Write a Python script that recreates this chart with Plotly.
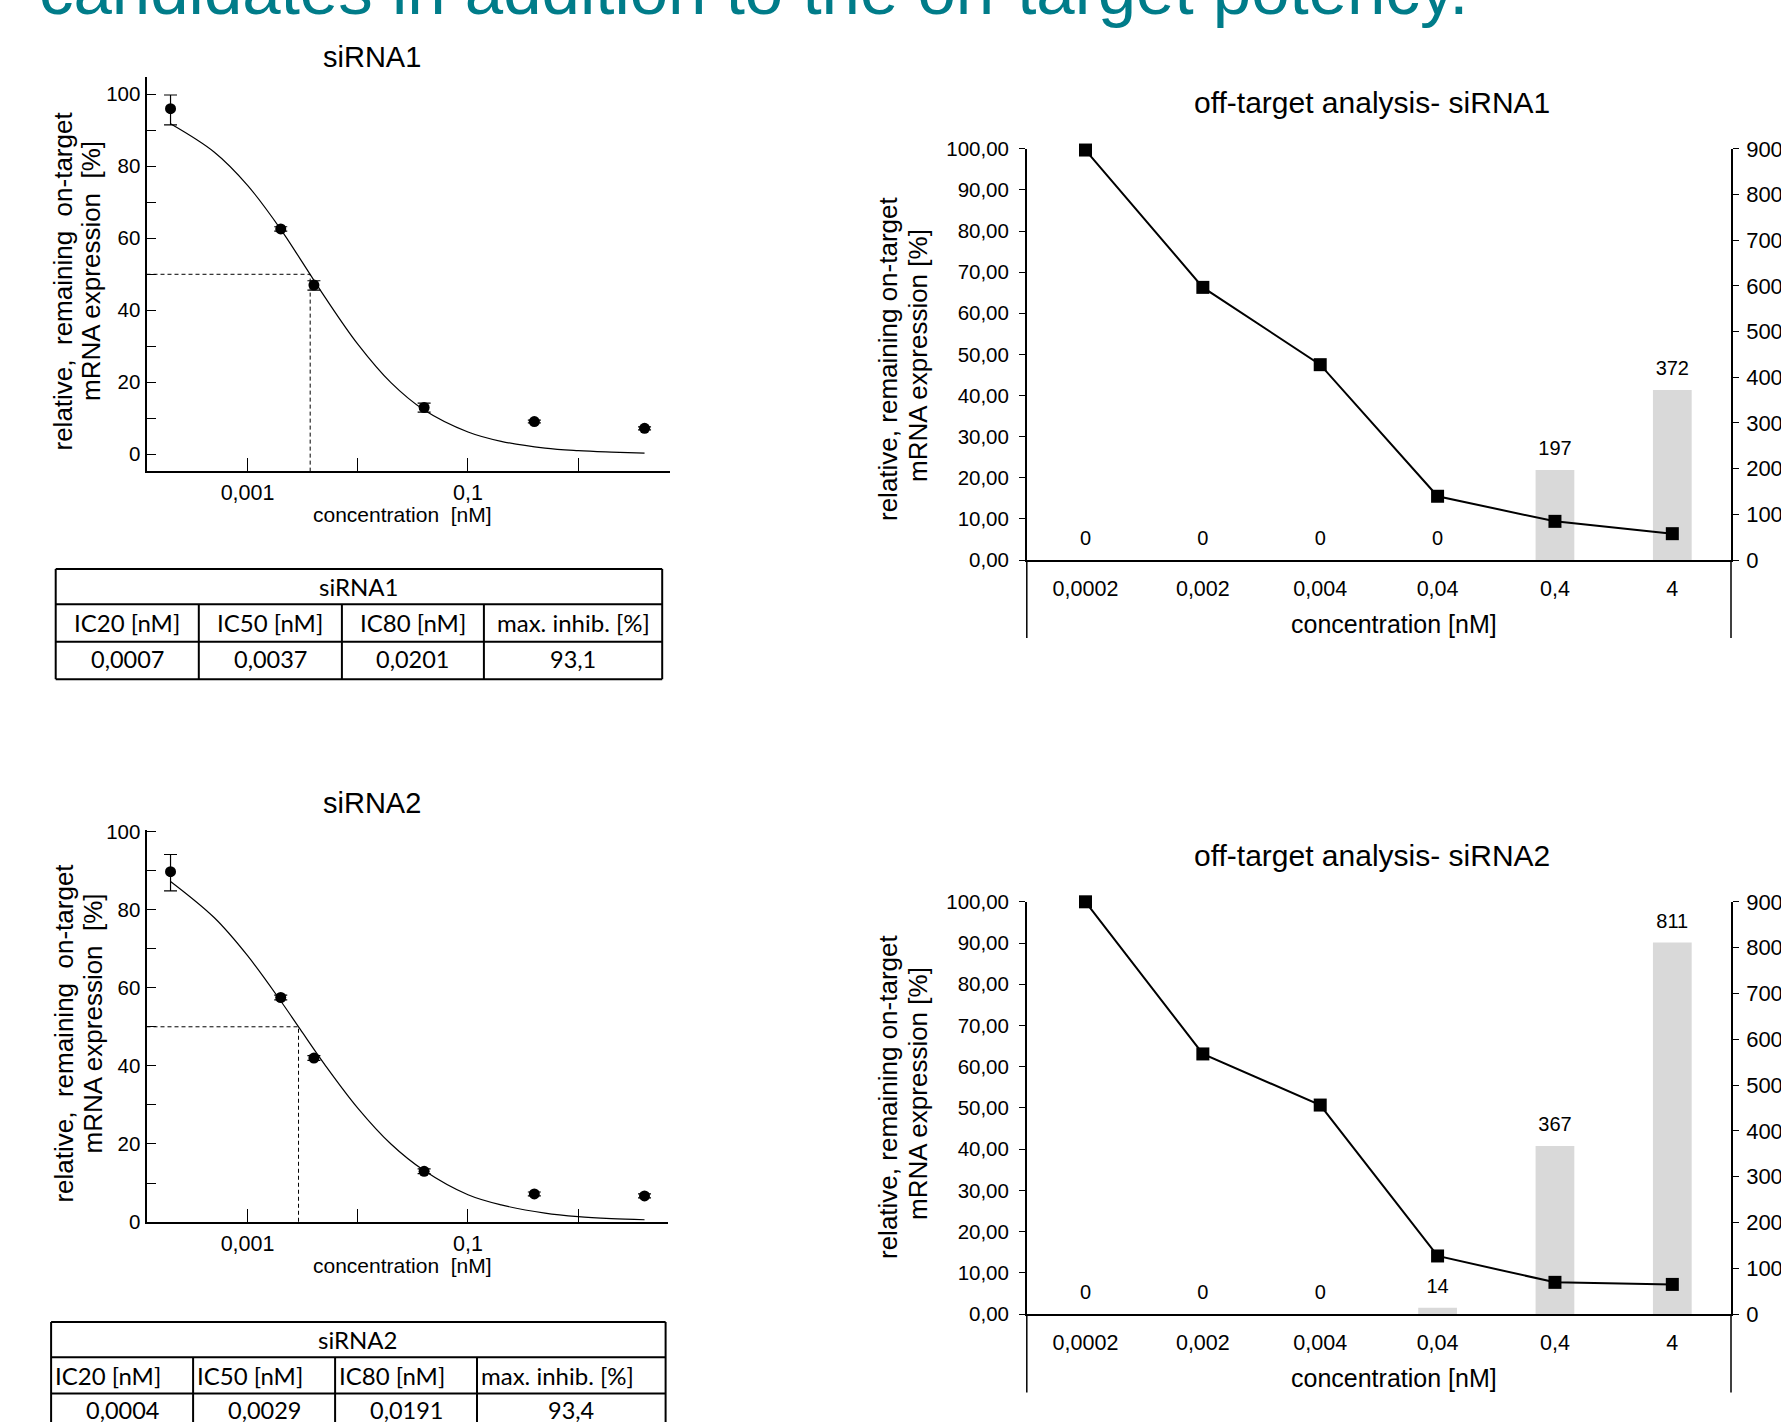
import plotly.graph_objects as go

W, H = 1781, 1422

# ---------------- data ----------------
conc = [0.0002, 0.002, 0.004, 0.04, 0.4, 4]
conc_labels = ["0,0002", "0,002", "0,004", "0,04", "0,4", "4"]

sirna1_on = [96.0, 62.6, 47.0, 13.0, 9.1, 7.2]
sirna1_err_plus = [3.8, 0.6, 1.2, 1.2, 0.4, 0.4]
sirna1_err_minus = [4.5, 0.6, 1.4, 1.3, 0.4, 0.4]
sirna2_on = [89.7, 57.5, 42.0, 13.0, 7.2, 6.7]
sirna2_err_plus = [4.4, 0.6, 0.6, 0.6, 0.5, 0.5]
sirna2_err_minus = [4.9, 0.6, 0.6, 0.6, 0.5, 0.5]

# fitted dose-response curves
curve_x = [0.0002, 0.0005, 0.001, 0.002, 0.003, 0.005, 0.01, 0.02, 0.04,
           0.1, 0.2, 0.5, 1, 2, 4]
sirna1_curve = [91.8, 83.9, 74.7, 62.5, 54.3, 43.8, 30.6, 19.9, 12.3,
                6.2, 3.6, 1.7, 1.0, 0.6, 0.3]
sirna2_curve = [87.2, 77.9, 68.2, 56.6, 49.4, 40.4, 29.2, 20.0, 13.2,
                7.0, 4.4, 2.3, 1.4, 0.9, 0.6]

off1_line = [99.7, 66.3, 47.5, 15.5, 9.4, 6.4]
off1_bars = [0, 0, 0, 0, 197, 372]
off2_line = [100.0, 63.1, 50.7, 14.1, 7.7, 7.2]
off2_bars = [0, 0, 0, 14, 367, 811]

table_cols = ["IC20 [nM]", "IC50 [nM]", "IC80 [nM]", "max. inhib. [%]"]
table1_vals = ["0,0007", "0,0037", "0,0201", "93,1"]
table2_vals = ["0,0004", "0,0029", "0,0191", "93,4"]

ic50_1 = float(table1_vals[1].replace(",", "."))
ic50_2 = float(table2_vals[1].replace(",", "."))

# ---------------- helpers ----------------
def fx(p):
    return p / W


def fy(p):
    return 1 - p / H


CF = "Liberation Sans, Arial, sans-serif"
TF = "Lato, Carlito, sans-serif"
BLACK = "black"

TL_XR = [-3.917, 0.833]
TL_YR = [-4.64, 104.8]
BL_XR = [-3.917, 0.815]
BL_YR = [0, 100.3]

fig = go.Figure()


def dose_panel(xa, ya, on, ep, em, curve, ic50, xr, yr):
    fig.add_trace(go.Scatter(x=curve_x, y=curve, mode="lines",
                             line=dict(color=BLACK, width=1.2, shape="spline"),
                             xaxis=xa, yaxis=ya, hoverinfo="skip"))
    fig.add_trace(go.Scatter(x=[10 ** xr[0], ic50, ic50], y=[50, 50, yr[0]],
                             mode="lines",
                             line=dict(color=BLACK, width=1, dash="4px,3px"),
                             xaxis=xa, yaxis=ya, hoverinfo="skip"))
    fig.add_trace(go.Scatter(x=conc, y=on, mode="markers",
                             marker=dict(color=BLACK, size=11),
                             error_y=dict(type="data", symmetric=False,
                                          array=ep, arrayminus=em,
                                          color=BLACK, thickness=1.2, width=6.5),
                             xaxis=xa, yaxis=ya))


dose_panel("x", "y", sirna1_on, sirna1_err_plus, sirna1_err_minus,
           sirna1_curve, ic50_1, TL_XR, TL_YR)
dose_panel("x2", "y2", sirna2_on, sirna2_err_plus, sirna2_err_minus,
           sirna2_curve, ic50_2, BL_XR, BL_YR)


def off_panel(xa, ybar, yline, bars, line):
    fig.add_trace(go.Bar(x=conc_labels, y=bars, width=0.33,
                         marker=dict(color="#D9D9D9", line=dict(width=0)),
                         xaxis=xa, yaxis=ybar))
    fig.add_trace(go.Scatter(x=conc_labels, y=bars, mode="markers+text",
                             text=[str(v) for v in bars],
                             textposition="top center",
                             textfont=dict(family=CF, size=20, color=BLACK),
                             marker=dict(size=14, opacity=0),
                             cliponaxis=False, xaxis=xa, yaxis=ybar,
                             hoverinfo="skip"))
    fig.add_trace(go.Scatter(x=conc_labels, y=line, mode="lines+markers",
                             line=dict(color=BLACK, width=2),
                             marker=dict(symbol="square", size=13, color=BLACK),
                             cliponaxis=False, xaxis=xa, yaxis=yline))


off_panel("x3", "y3", "y4", off1_bars, off1_line)
off_panel("x4", "y5", "y6", off2_bars, off2_line)

# ---------------- axes ----------------
def log_x(domain, anchor, xr):
    return dict(domain=domain, anchor=anchor, type="log", range=xr,
                automargin=False,
                showline=True, linecolor=BLACK, linewidth=2,
                ticks="inside", ticklen=13, tickwidth=1.3, tickcolor=BLACK,
                tickvals=[0.001, 0.01, 0.1, 1],
                ticktext=["0,001", "", "0,1", ""],
                tickfont=dict(family=CF, size=21.5, color=BLACK),
                ticklabelstandoff=1,
                showgrid=False, zeroline=False)


def lin_y(domain, anchor, yr):
    return dict(domain=domain, anchor=anchor, range=yr,
                automargin=False,
                showline=True, linecolor=BLACK, linewidth=2,
                ticks="inside", ticklen=9, tickwidth=1.3, tickcolor=BLACK,
                tick0=0, dtick=20,
                minor=dict(ticks="inside", ticklen=9, tickwidth=1.3,
                           tickcolor=BLACK, tick0=0, dtick=10),
                tickfont=dict(family=CF, size=20.5, color=BLACK),
                showgrid=False, zeroline=False)


def cat_x(domain, anchor):
    return dict(domain=domain, anchor=anchor, type="category",
                automargin=False,
                range=[-0.5, 5.5], showline=True, linecolor=BLACK,
                linewidth=1.5, ticks="", showgrid=False, zeroline=False,
                tickfont=dict(family=CF, size=21.5, color=BLACK),
                ticklabelstandoff=8)


def bar_y(domain, anchor):
    return dict(domain=domain, anchor=anchor, side="right", range=[0, 900],
                automargin=False,
                tick0=0, dtick=100, ticks="outside", ticklen=6,
                tickwidth=1.3, tickcolor=BLACK,
                showline=True, linecolor=BLACK, linewidth=1.5,
                showgrid=False, zeroline=False, ticklabelstandoff=3,
                tickfont=dict(family=CF, size=22, color=BLACK))


def line_y(overlay, anchor):
    return dict(overlaying=overlay, anchor=anchor, side="left",
                automargin=False,
                range=[0, 100], tick0=0, dtick=10, tickformat=".2f",
                ticks="outside", ticklen=6, tickwidth=1.3, tickcolor=BLACK,
                showline=True, linecolor=BLACK, linewidth=1.5,
                showgrid=False, zeroline=False, ticklabelstandoff=6,
                tickfont=dict(family=CF, size=20.5, color=BLACK))


# panel geometry (pixels)
TL = dict(x0=146.5, x1=670, y0=77, y1=471)
BL = dict(x0=146.5, x1=668, y0=830.3, y1=1222.1)
TR = dict(x0=1026.8, x1=1731, y0=148.8, y1=560, ext=638)
BR = dict(x0=1026.8, x1=1731, y0=901.8, y1=1314.1, ext=1392.5)

layout_axes = dict(
    xaxis=log_x([fx(TL["x0"]), fx(TL["x1"])], "y", TL_XR),
    yaxis=lin_y([fy(TL["y1"]), fy(TL["y0"])], "x", TL_YR),
    xaxis2=log_x([fx(BL["x0"]), fx(BL["x1"])], "y2", BL_XR),
    yaxis2=lin_y([fy(BL["y1"]), fy(BL["y0"])], "x2", BL_YR),
    xaxis3=cat_x([fx(TR["x0"]), fx(TR["x1"])], "y3"),
    yaxis3=bar_y([fy(TR["y1"]), fy(TR["y0"])], "x3"),
    yaxis4=line_y("y3", "x3"),
    xaxis4=cat_x([fx(BR["x0"]), fx(BR["x1"])], "y5"),
    yaxis5=bar_y([fy(BR["y1"]), fy(BR["y0"])], "x4"),
    yaxis6=line_y("y5", "x4"),
)

shapes = []
annotations = []


def text(t, x, y, size, family=CF, angle=0, xanchor="center", color=BLACK):
    annotations.append(dict(text=t, x=fx(x), y=fy(y), xref="paper",
                            yref="paper", showarrow=False, xanchor=xanchor,
                            yanchor="middle", textangle=angle,
                            font=dict(family=family, size=size, color=color)))


# axis lines extending below the category axis
for P in (TR, BR):
    for xx in (P["x0"], P["x1"]):
        shapes.append(dict(type="line", xref="paper", yref="paper",
                           x0=fx(xx), x1=fx(xx), y0=fy(P["y1"]), y1=fy(P["ext"]),
                           line=dict(color=BLACK, width=1.5)))

# chart titles
text("siRNA1", 372, 57, 29)
text("siRNA2", 372, 803, 29)
text("off-target analysis- siRNA1", 1372, 102, 30)
text("off-target analysis- siRNA2", 1372, 855, 30)

# axis titles
text("concentration  [nM]", 402.6, 514.5, 21)
text("concentration  [nM]", 402.6, 1265, 21)
text("concentration [nM]", 1393.6, 623.6, 25)
text("concentration [nM]", 1393.6, 1377.7, 25)

text("relative,  remaining  on-target", 62.5, 281, 26, angle=-90)
text("mRNA expression  [%]", 91, 271, 26, angle=-90)
text("relative,  remaining  on-target", 64, 1033.6, 26, angle=-90)
text("mRNA expression  [%]", 92.5, 1024, 26, angle=-90)

text("relative, remaining on-target", 888, 359, 26, angle=-90)
text("mRNA expression [%]", 918, 356, 26, angle=-90)
text("relative, remaining on-target", 888, 1097, 26, angle=-90)
text("mRNA expression [%]", 918, 1094, 26, angle=-90)

# header line (cut off at top of the page)
text("candidates in addition to the on-target potency.", 37, -9.6, 69,
     xanchor="left", color="#007C89")


# tables
def draw_table(xs, ys, name, vals, header_align):
    lw = 2
    for yy in ys:
        shapes.append(dict(type="line", xref="paper", yref="paper",
                           x0=fx(xs[0]), x1=fx(xs[-1]), y0=fy(yy), y1=fy(yy),
                           line=dict(color=BLACK, width=lw)))
    for i, xx in enumerate(xs):
        top = ys[0] if i in (0, len(xs) - 1) else ys[1]
        shapes.append(dict(type="line", xref="paper", yref="paper",
                           x0=fx(xx), x1=fx(xx), y0=fy(top), y1=fy(ys[-1]),
                           line=dict(color=BLACK, width=lw)))
    text(name, (xs[0] + xs[-1]) / 2, (ys[0] + ys[1]) / 2, 24, family=TF)
    for i in range(4):
        if header_align == "center":
            text(table_cols[i], (xs[i] + xs[i + 1]) / 2, (ys[1] + ys[2]) / 2,
                 24, family=TF)
        else:
            text(table_cols[i], xs[i] + 2, (ys[1] + ys[2]) / 2, 24,
                 family=TF, xanchor="left")
        text(vals[i], (xs[i] + xs[i + 1]) / 2, (ys[2] + ys[3]) / 2 - 1.5, 23.5,
             family=TF)


draw_table([55.7, 198.8, 341.9, 483.9, 662.2], [569, 604.3, 641.7, 679.2],
           "siRNA1", table1_vals, "center")
draw_table([51.1, 193.1, 335.1, 477, 665.6], [1322, 1357.3, 1393.6, 1430],
           "siRNA2", table2_vals, "left")

fig.update_layout(
    template="none",
    width=W, height=H, margin=dict(l=0, r=0, t=0, b=0, pad=0),
    paper_bgcolor="white", plot_bgcolor="rgba(0,0,0,0)",
    showlegend=False, separators=",.", barmode="overlay",
    shapes=shapes, annotations=annotations,
    font=dict(family=CF, color=BLACK),
    **layout_axes,
)

fig.write_html("out.html")
